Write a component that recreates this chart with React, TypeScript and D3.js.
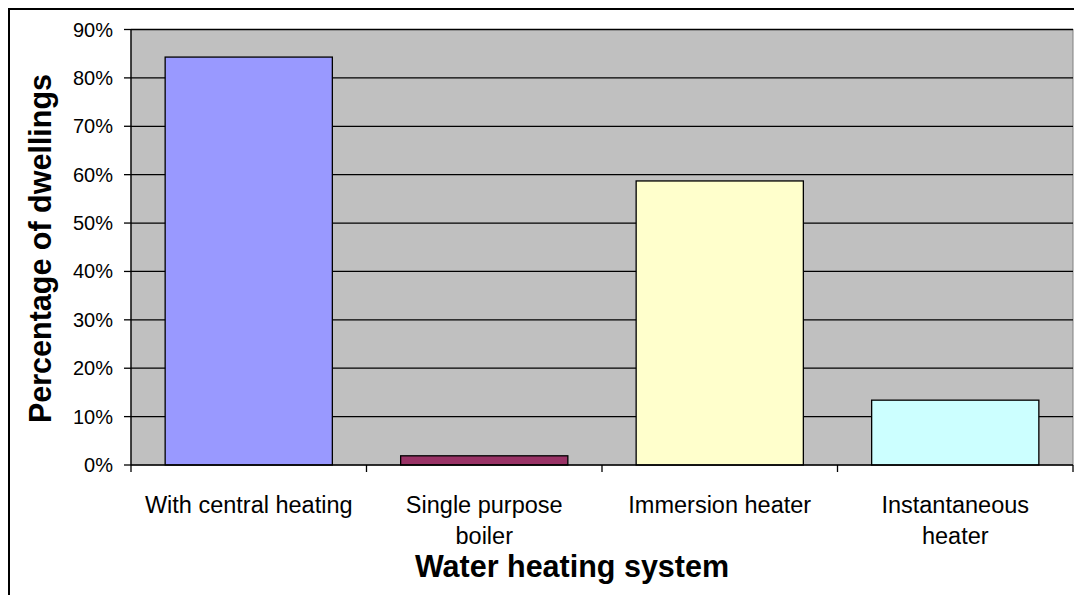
import React from "react";
import * as d3 from "d3";

const categories: string[][] = [
  ["With central heating"],
  ["Single purpose", "boiler"],
  ["Immersion heater"],
  ["Instantaneous", "heater"],
];
const values: number[] = [84.3, 1.9, 58.7, 13.4];
const barColors: string[] = ["#9999FF", "#993366", "#FFFFCC", "#CCFFFF"];
const yTicks: number[] = [0, 10, 20, 30, 40, 50, 60, 70, 80, 90];
const yTitle = "Percentage of dwellings";
const xTitle = "Water heating system";

export default function App() {
  const W = 1074;
  const H = 600;
  const ox = 8, oy = 8;
  const left = 131 - ox, right = 1073 - ox, top = 29.5 - oy, bottom = 465 - oy;
  const y = d3.scaleLinear().domain([0, 90]).range([bottom, top]);
  const x = d3.scaleBand<number>().domain(d3.range(categories.length)).range([left, right]).paddingInner(0.29).paddingOuter(0.145);
  const step = x.step();
  const font = "'Liberation Sans', Arial, sans-serif";
  return (
    <svg width={W} height={H} style={{ display: "block" }} fontFamily={font}>
      <rect x={1} y={1} width={W - 2} height={H - 2} fill="#fff" stroke="#000" strokeWidth={2} />
      <rect x={left} y={top} width={right - left} height={bottom - top} fill="#C0C0C0" stroke="#808080" strokeWidth={1} />
      {yTicks.slice(1).map((t) => (
        <line key={t} x1={left} x2={right} y1={y(t)} y2={y(t)} stroke="#000" strokeWidth={1.3} />
      ))}
      {values.map((v, i) => (
        <rect key={i} x={x(i)} y={y(v)} width={x.bandwidth()} height={bottom - y(v)} fill={barColors[i]} stroke="#000" strokeWidth={1.3} />
      ))}
      <line x1={left} x2={left} y1={top} y2={bottom} stroke="#000" strokeWidth={1.3} />
      <line x1={left} x2={right} y1={bottom} y2={bottom} stroke="#000" strokeWidth={1.3} />
      {yTicks.map((t) => (
        <g key={t}>
          <line x1={left - 7} x2={left} y1={y(t)} y2={y(t)} stroke="#000" strokeWidth={1.3} />
          <text x={113 - ox} y={y(t)} dy="0.35em" textAnchor="end" fontSize={20} fill="#000">{t}%</text>
        </g>
      ))}
      {d3.range(categories.length + 1).map((i) => (
        <line key={i} x1={left + i * step} x2={left + i * step} y1={bottom} y2={bottom + 7} stroke="#000" strokeWidth={1.3} />
      ))}
      {categories.map((lines, i) => (
        <text key={i} x={(x(i) as number) + x.bandwidth() / 2} y={512.5 - oy} textAnchor="middle" fontSize={23.5} fill="#000">
          {lines.map((l, j) => (
            <tspan key={j} x={(x(i) as number) + x.bandwidth() / 2} dy={j === 0 ? 0 : 31.5}>{l}</tspan>
          ))}
        </text>
      ))}
      <text x={572 - ox} y={577 - oy} textAnchor="middle" fontSize={30.5} fontWeight="bold" fill="#000">{xTitle}</text>
      <text transform={`translate(${51 - ox},${248.5 - oy}) rotate(-90)`} textAnchor="middle" fontSize={30.5} fontWeight="bold" fill="#000">{yTitle}</text>
    </svg>
  );
}
